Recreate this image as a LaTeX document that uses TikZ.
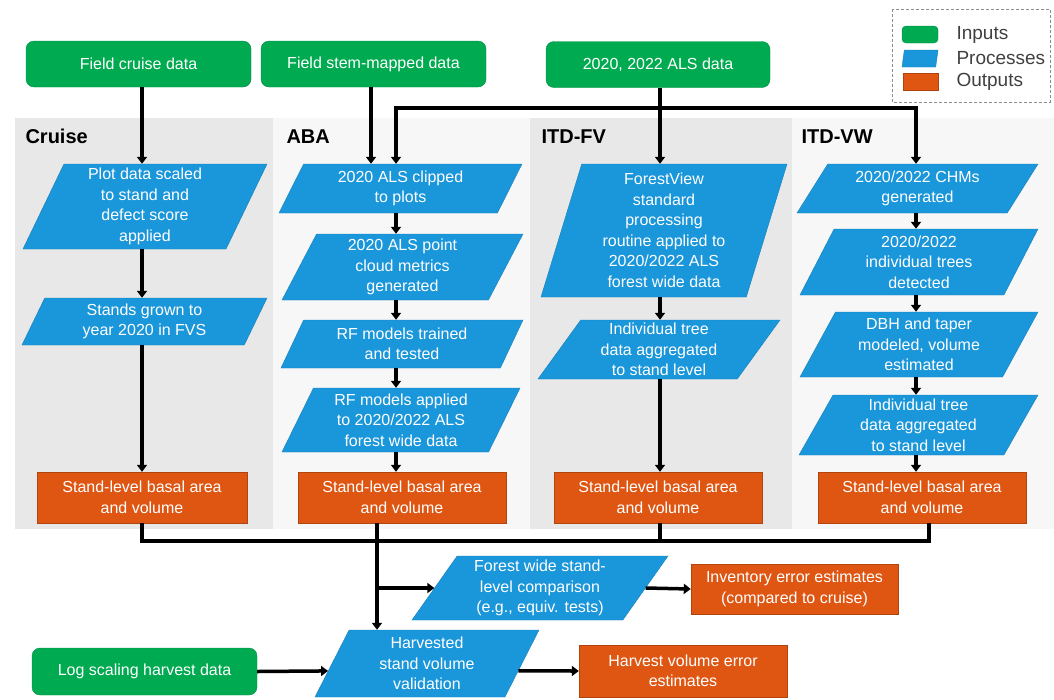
\documentclass[tikz,border=0pt]{standalone}
\usepackage{fontspec}
\setmainfont{Liberation Sans}
\usetikzlibrary{shapes.geometric, arrows.meta, calc}

\definecolor{inputgreen}{RGB}{0,170,80}
\definecolor{procblue}{RGB}{26,150,218}
\definecolor{outorange}{RGB}{222,86,18}
\definecolor{panelgray}{RGB}{232,232,232}

\begin{document}
\begin{tikzpicture}[
  x=1pt, y=-1pt,
  boxfont/.style={font=\fontsize{16}{20.5}\selectfont},
  inp/.style={rectangle, rounded corners=8pt, fill=inputgreen, draw=inputgreen!85!black,
    text=white, align=center, minimum width=225, minimum height=46, boxfont},
  proc/.style={trapezium, trapezium left angle=#1, trapezium right angle/.evaluated={180-#1},
    trapezium stretches body, fill=procblue, draw=procblue!85!black, text=white,
    align=center, inner sep=2pt, boxfont},
  proc/.default=60,
  outp/.style={rectangle, fill=outorange, draw=outorange!80!black, text=white,
    align=center, minimum width=208, minimum height=51, boxfont},
  paneltitle/.style={anchor=base west, font=\fontsize{20}{24}\selectfont\bfseries},
  keytext/.style={anchor=west, text=black!75, font=\fontsize{19}{22}\selectfont},
  arr/.style={line width=3.5pt, -{Triangle[width=10pt,length=7pt]}},
  link/.style={line width=3.5pt}]
    \useasboundingbox (0,0) rectangle (1054,699);

    % Panels for the four methods
    \fill[panelgray] (15,118) rectangle (273,529);
    \fill[black!3] (273,118) rectangle (530,529);
    \fill[panelgray] (530,118) rectangle (792,529);
    \fill[black!3] (792,118) rectangle (1054,529);
    \node[paneltitle] (tcruise) at (22,143) {Cruise};
    \node[paneltitle] (taba) at (283,143) {ABA};
    \node[paneltitle] (titdfv) at (538,143) {ITD-FV};
    \node[paneltitle] (titdvw) at (798,143) {ITD-VW};

    % Inputs
    \node[inp] (incruise) at (138.5,64) {Field cruise data};
    \node[inp] (instem) at (373.5,64) {Field stem-mapped data};
    \node[inp, minimum width=224] (inals) at (658,64.5) {2020, 2022 ALS data};
    \node[inp, minimum height=47] (inlog) at (144.5,671.5) {Log scaling harvest data};

    % Cruise column
    \node[proc=63, minimum width=244, minimum height=85] (plot) at (145,206.5)
      {Plot data scaled\\to stand and\\defect score\\applied};
    \node[proc=60, minimum width=245, minimum height=47] (stands) at (144.5,321.5)
      {Stands grown to\\year 2020 in FVS};
    \node[outp, minimum width=210] (outcruise) at (142,497.5) {Stand-level basal area\\and volume};

    % ABA column
    \node[proc=58, minimum width=243, minimum height=49] (clip) at (400.5,188.5)
      {2020 ALS clipped\\to plots};
    \node[proc=60, minimum width=241, minimum height=66] (cloud) at (402.5,267)
      {2020 ALS point\\cloud metrics\\generated};
    \node[proc=58, minimum width=242, minimum height=48] (rftrain) at (402,344)
      {RF models trained\\and tested};
    \node[proc=61, minimum width=238, minimum height=64] (rfapply) at (401,420)
      {RF models applied\\to 2020/2022 ALS\\forest wide data};
    \node[outp] (outaba) at (402,497.5) {Stand-level basal area\\and volume};

    % ITD-FV column
    \node[proc=71, minimum width=246, minimum height=133] (fview) at (664,230.5)
      {ForestView\\standard\\processing\\routine applied to\\2020/2022 ALS\\forest wide data};
    \node[proc=53, minimum width=242, minimum height=59] (fvagg) at (659,349.5)
      {Individual tree\\data aggregated\\to stand level};
    \node[outp] (outfv) at (658,497.5) {Stand-level basal area\\and volume};

    % ITD-VW column
    \node[proc=52, minimum width=241, minimum height=49] (chm) at (917.5,188.5)
      {2020/2022 CHMs\\generated};
    \node[proc=59, minimum width=238, minimum height=66] (trees) at (919,262)
      {2020/2022\\individual trees\\detected};
    \node[proc=58, minimum width=238, minimum height=65] (dbh) at (919,344.5)
      {DBH and taper\\modeled, volume\\estimated};
    \node[proc=59, minimum width=239, minimum height=60] (vwagg) at (918.5,425)
      {Individual tree\\data aggregated\\to stand level};
    \node[outp] (outvw) at (922,497.5) {Stand-level basal area\\and volume};

    % Comparison and validation
    \node[proc=53, minimum width=256, minimum height=64] (fwide) at (540,588)
      {Forest wide stand-\\level comparison\\(e.g., equiv. tests)};
    \node[outp, minimum width=207, minimum height=50] (inv) at (794.5,589)
      {Inventory error estimates\\(compared to cruise)};
    \node[proc=59, minimum width=224, minimum height=67] (harv) at (427,663.5)
      {Harvested\\stand volume\\validation};
    \node[outp, minimum height=52] (hverr) at (683,671) {Harvest volume error\\estimates};

    % Legend
    \draw[black!45, densely dashed] (892,9) rectangle (1050,102);
    \node[inp, minimum width=36, minimum height=17, rounded corners=4pt] (keyin) at (920,34.5) {};
    \node[proc=60, minimum width=36, minimum height=17] (keyproc) at (920,58.5) {};
    \node[outp, minimum width=35, minimum height=17] (keyout) at (920.5,81.5) {};
    \node[keytext] (keyinlbl) at (953,34.5) {Inputs};
    \node[keytext] (keyproclbl) at (953,58.5) {Processes};
    \node[keytext] (keyoutlbl) at (953,81.5) {Outputs};

    % Column axes and buses
    \coordinate (xcr) at (142,0);
    \coordinate (xstem) at (371,0);
    \coordinate (xaba) at (396,0);
    \coordinate (xtrunk) at (377,0);
    \coordinate (xfv) at (660,0);
    \coordinate (xvw) at (916,0);
    \coordinate (xvwout) at (929,0);
    \coordinate (busals) at (0,108);
    \coordinate (busout) at (0,541);

    % Inputs into the methods
    \draw[arr] (incruise.south -| xcr) -- (plot.north -| xcr);
    \draw[arr] (instem.south -| xstem) -- (clip.north -| xstem);
    \draw[arr] (inals.south -| xfv) -- (fview.north -| xfv);
    \draw[arr] (busals -| xfv) -| (clip.north -| xaba);
    \draw[arr] (busals -| xfv) -| (chm.north -| xvw);

    % Steps within each column
    \draw[arr] (plot.south -| xcr) -- (stands.north -| xcr);
    \draw[arr] (stands.south -| xcr) -- (outcruise.north -| xcr);
    \draw[arr] (clip.south -| xaba) -- (cloud.north -| xaba);
    \draw[arr] (cloud.south -| xaba) -- (rftrain.north -| xaba);
    \draw[arr] (rftrain.south -| xaba) -- (rfapply.north -| xaba);
    \draw[arr] (rfapply.south -| xaba) -- (outaba.north -| xaba);
    \draw[arr] (fview.south -| xfv) -- (fvagg.north -| xfv);
    \draw[arr] (fvagg.south -| xfv) -- (outfv.north -| xfv);
    \draw[arr] (chm.south -| xvw) -- (trees.north -| xvw);
    \draw[arr] (trees.south -| xvw) -- (dbh.north -| xvw);
    \draw[arr] (dbh.south -| xvw) -- (vwagg.north -| xvw);
    \draw[arr] (vwagg.south -| xvw) -- (outvw.north -| xvw);

    % Outputs gathered for comparison
    \draw[link] (outcruise.south -| xcr) |- (busout -| xvwout) -- (outvw.south -| xvwout);
    \draw[link] (outfv.south -| xfv) -- (busout -| xfv);
    \draw[arr] (outaba.south -| xtrunk) -- (harv.north -| xtrunk);
    \draw[arr] (fwide.west -| xtrunk) -- (fwide.west);
    \draw[arr] (fwide.east) -- (inv.west);
    \draw[arr] (inlog.east) -- ($(harv.bottom left corner)!.39!(harv.top left corner)$);
    \draw[arr] ($(harv.bottom right corner)!.39!(harv.top right corner)$) -- (hverr.west);
\end{tikzpicture}
\end{document}
